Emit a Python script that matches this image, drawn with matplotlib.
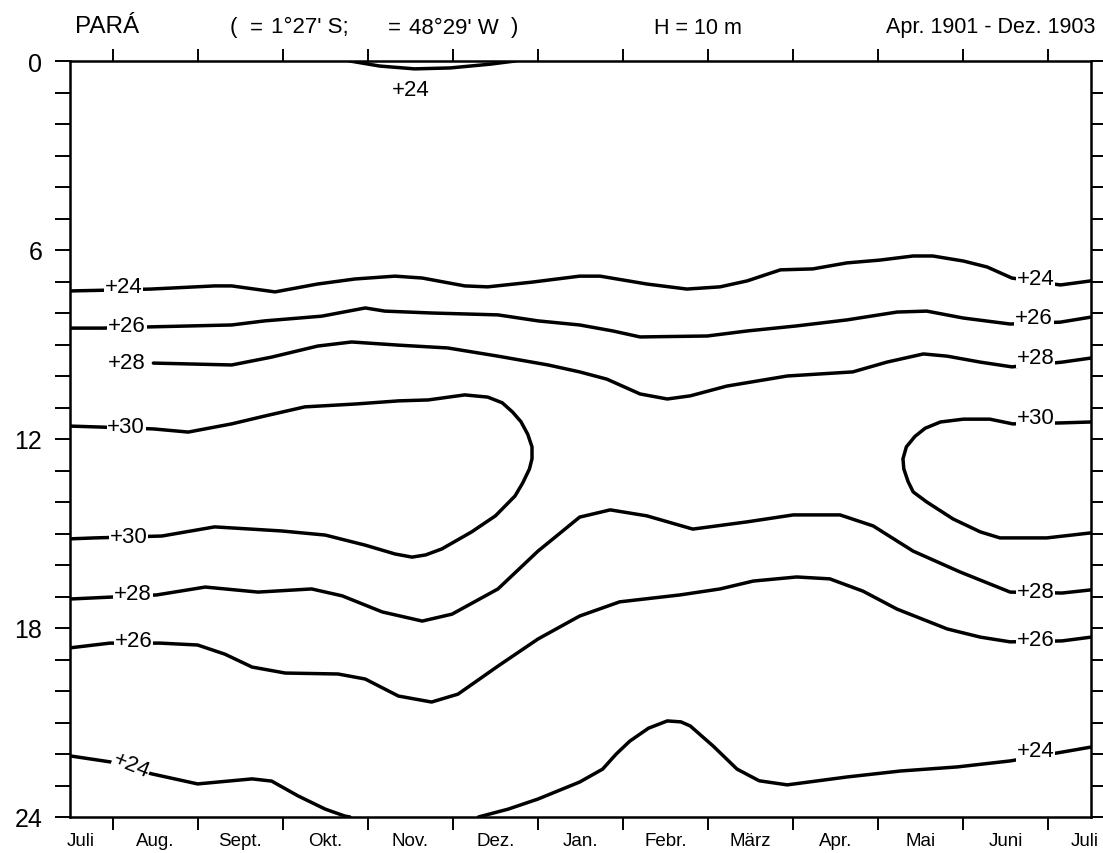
#!/usr/bin/env python3
"""
Thermoisopleths for Pará (hour of day vs. month), redrawn from the old print.
Writes out.png
"""

import matplotlib.pyplot as plt
import numpy as np

plt.rcParams['font.family'] = ['Liberation Sans', 'DejaVu Sans']

months = ["Juli", "Aug.", "Sept.", "Okt.", "Nov.", "Dez.", "Jan.",
          "Febr.", "März", "Apr.", "Mai", "Juni", "Juli"]
hour_labels = [0, 6, 12, 18, 24]

# isopleths: x = months since start of July, y = hour
iso24_night_x = [3.29, 3.64, 4.05, 4.47, 4.94, 5.23]
iso24_night_y = [0.0, 0.16, 0.25, 0.22, 0.10, 0.0]

iso24_am_x = [0, 0.35, 0.95, 1.70, 1.90, 2.41, 2.91, 3.35, 3.82, 4.14,
              4.64, 4.91, 5.43, 5.99, 6.23, 6.78, 7.25, 7.64, 7.96, 8.35,
              8.73, 9.13, 9.52, 9.91, 10.14, 10.50, 10.78, 11.07, 11.64, 12]
iso24_am_y = [7.30, 7.28, 7.24, 7.14, 7.14, 7.33, 7.08, 6.92, 6.83, 6.89,
              7.14, 7.17, 7.02, 6.83, 6.83, 7.08, 7.24, 7.17, 6.98, 6.63,
              6.60, 6.41, 6.32, 6.19, 6.19, 6.35, 6.54, 6.89, 7.11, 6.98]

iso26_am_x = [0, 0.38, 0.95, 1.90, 2.29, 2.96, 3.47, 3.70, 4.25, 5.03,
              5.50, 5.99, 6.38, 6.70, 7.49, 7.96, 8.54, 9.13, 9.72, 10.07,
              10.50, 11.05, 11.64, 12]
iso26_am_y = [8.48, 8.48, 8.44, 8.38, 8.25, 8.10, 7.84, 7.94, 8.00, 8.06,
              8.25, 8.38, 8.57, 8.76, 8.73, 8.57, 8.41, 8.22, 7.97, 7.94,
              8.16, 8.35, 8.29, 8.13]

iso28_am_x = [0.98, 1.90, 2.37, 2.91, 3.31, 3.86, 4.44, 5.03, 5.62, 5.99,
              6.31, 6.70, 7.02, 7.29, 7.72, 8.43, 9.20, 9.60, 10.03, 10.31,
              10.70, 11.07, 11.66, 12]
iso28_am_y = [9.59, 9.65, 9.40, 9.05, 8.92, 9.02, 9.11, 9.37, 9.65, 9.87,
              10.10, 10.57, 10.73, 10.63, 10.32, 10.00, 9.87, 9.56, 9.30, 9.37,
              9.56, 9.71, 9.56, 9.43]

iso30_west_x = [0, 0.35, 0.98, 1.39, 1.90, 2.29, 2.76, 3.35, 3.86, 4.21,
                4.64, 4.91, 5.08, 5.20, 5.30, 5.38, 5.43, 5.43, 5.40, 5.32,
                5.23, 5.00, 4.72, 4.37, 4.18, 4.02, 3.82, 3.47, 3.00, 2.49,
                1.70, 1.08, 0.29, 0]
iso30_west_y = [11.59, 11.62, 11.68, 11.78, 11.52, 11.27, 10.98, 10.89, 10.79, 10.76,
                10.60, 10.67, 10.85, 11.14, 11.45, 11.85, 12.25, 12.63, 12.95, 13.40,
                13.81, 14.44, 14.95, 15.49, 15.68, 15.75, 15.65, 15.37, 15.05, 14.92,
                14.79, 15.08, 15.14, 15.17]

iso30_east_x = [12, 11.64, 11.08, 10.81, 10.50, 10.23, 10.05, 9.93, 9.83, 9.79,
                9.80, 9.85, 9.91, 10.07, 10.38, 10.70, 10.93, 11.48, 12]
iso30_east_y = [11.46, 11.49, 11.52, 11.37, 11.37, 11.46, 11.66, 11.92, 12.25, 12.63,
                12.95, 13.35, 13.68, 14.00, 14.54, 14.95, 15.14, 15.14, 14.98]

iso28_pm_x = [0, 0.47, 1.02, 1.59, 2.21, 2.84, 3.20, 3.67, 4.14, 4.49,
              5.03, 5.50, 5.99, 6.35, 6.78, 7.32, 7.96, 8.50, 9.05, 9.44,
              9.91, 10.46, 11.05, 11.66, 12]
iso28_pm_y = [17.08, 17.02, 16.95, 16.70, 16.86, 16.76, 16.98, 17.49, 17.78, 17.56,
              16.76, 15.56, 14.48, 14.25, 14.44, 14.86, 14.63, 14.41, 14.41, 14.76,
              15.56, 16.22, 16.86, 16.89, 16.79]

iso26_pm_x = [0, 0.47, 1.06, 1.50, 1.82, 2.14, 2.53, 3.15, 3.47, 3.86,
              4.25, 4.56, 5.03, 5.50, 5.99, 6.46, 7.17, 7.64, 8.03, 8.54,
              8.93, 9.32, 9.72, 10.31, 10.70, 11.05, 11.66, 12]
iso26_pm_y = [18.63, 18.48, 18.48, 18.54, 18.83, 19.24, 19.43, 19.46, 19.62, 20.16,
              20.35, 20.10, 19.21, 18.35, 17.62, 17.17, 16.95, 16.76, 16.51, 16.38,
              16.44, 16.83, 17.40, 18.03, 18.29, 18.44, 18.41, 18.29]

# +24 at night leaves through the 24 h edge in Okt./Nov. and comes back in Dez.
iso24_pm_a_x = [0, 0.47, 0.96, 1.50, 2.14, 2.37, 2.68, 3.00, 3.23, 3.29]
iso24_pm_a_y = [22.06, 22.25, 22.63, 22.95, 22.79, 22.86, 23.33, 23.75, 23.97, 24.0]
iso24_pm_b_x = [4.80, 5.15, 5.50, 5.99, 6.26, 6.42, 6.58, 6.80, 7.02, 7.18,
                7.29, 7.56, 7.84, 8.10, 8.43, 9.13, 9.76, 10.43, 11.05, 11.66, 12]
iso24_pm_b_y = [24.0, 23.75, 23.43, 22.89, 22.48, 22.00, 21.59, 21.18, 20.95, 20.98,
                21.11, 21.75, 22.48, 22.85, 22.98, 22.73, 22.54, 22.41, 22.22, 21.94, 21.78]

lines = [(iso24_night_x, iso24_night_y), (iso24_am_x, iso24_am_y),
         (iso26_am_x, iso26_am_y), (iso28_am_x, iso28_am_y),
         (iso30_west_x, iso30_west_y), (iso30_east_x, iso30_east_y),
         (iso28_pm_x, iso28_pm_y), (iso26_pm_x, iso26_pm_y),
         (iso24_pm_a_x, iso24_pm_a_y), (iso24_pm_b_x, iso24_pm_b_y)]

# (text, month, hour, rotation)
line_labels = [("+24", 4.00, 0.92, 0),
               ("+24", 0.63, 7.17, 0), ("+26", 0.67, 8.41, 0),
               ("+28", 0.67, 9.56, 0), ("+30", 0.66, 11.59, 0),
               ("+30", 0.69, 15.11, 0), ("+28", 0.74, 16.92, 0),
               ("+26", 0.75, 18.41, 0), ("+24", 0.72, 22.35, -22),
               ("+24", 11.35, 6.89, 0), ("+26", 11.33, 8.13, 0),
               ("+28", 11.35, 9.40, 0), ("+30", 11.35, 11.33, 0),
               ("+28", 11.35, 16.83, 0), ("+26", 11.35, 18.35, 0),
               ("+24", 11.35, 21.90, 0)]

W, H = 1103, 854
fig = plt.figure(figsize=(W / 100, H / 100), dpi=100)
ax = fig.add_axes([70 / W, 1 - 818 / H, 1021 / W, 756 / H])

for x, y in lines:
    ax.plot(x, y, color='black', lw=2.5,
            solid_capstyle='round', solid_joinstyle='round')

for txt, x, y, rot in line_labels:
    ax.text(x, y, txt, ha='center', va='center', fontsize=16, rotation=rot,
            bbox=dict(fc='white', ec='none', pad=0.5), zorder=5)

ax.set_xlim(0, 12)
ax.set_ylim(24, 0)

# y axis: hour ticks on both sides, labels every 6 h
ax.set_yticks(hour_labels)
ax.set_yticks(np.arange(0, 25), minor=True)
ax.tick_params(axis='y', which='both', direction='out', length=11, width=1.4,
               left=True, right=True, labelsize=18, pad=9)

# x axis: ticks between month names, names without ticks
label_pos = np.arange(len(months)).astype(float)
label_pos[0] = 0.12
label_pos[-1] = 11.93
ax.set_xticks(np.arange(12) + 0.5)
ax.set_xticklabels([])
ax.set_xticks(label_pos, minor=True)
ax.set_xticklabels(months, minor=True)
ax.tick_params(axis='x', which='major', direction='out', length=9, width=1.4,
               top=True, bottom=True)
ax.tick_params(axis='x', which='minor', length=0, labelsize=13.5, pad=11)

for s in ax.spines.values():
    s.set_linewidth(1.8)

# header line
fig.text(75 / W, 1 - 27 / H, "PARÁ", ha='left', va='center', fontsize=17.5)
for txt, px in [("(", 230), ("=", 250), ("1°27' S;", 271), ("=", 388),
                ("48°29' W", 409), (")", 511)]:
    fig.text(px / W, 1 - 28 / H, txt, ha='left', va='center', fontsize=16)
fig.text(698 / W, 1 - 28 / H, "H = 10 m", ha='center', va='center', fontsize=15.5)
fig.text(1095 / W, 1 - 28 / H, "Apr. 1901 - Dez. 1903", ha='right', va='center',
         fontsize=15.5)

fig.savefig("out.png", dpi=100)
